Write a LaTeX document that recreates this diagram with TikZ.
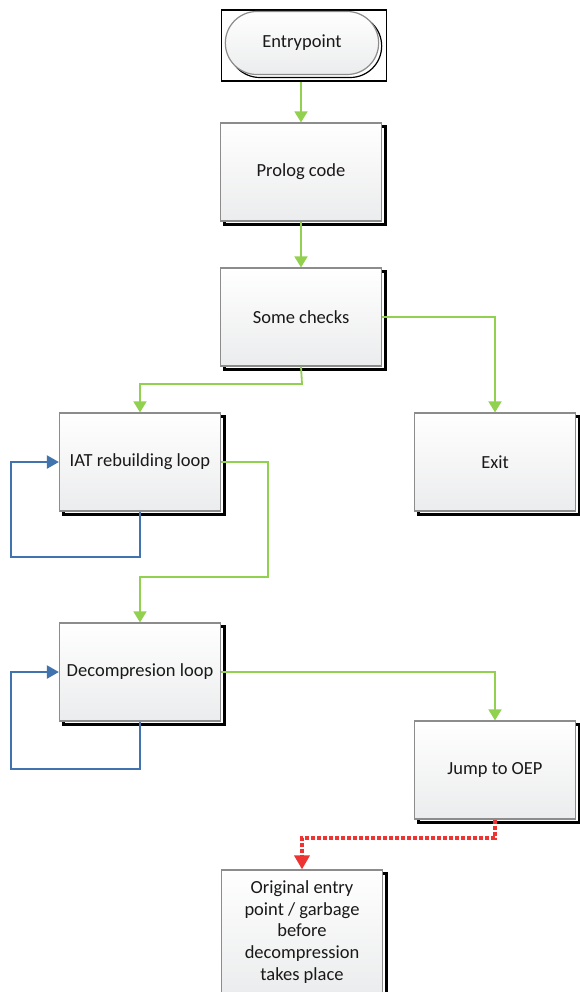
\documentclass[tikz,border=0pt]{standalone}
\usepackage{fontspec}
\setmainfont{Carlito}
\usetikzlibrary{arrows.meta,shapes.misc,shadows}
\definecolor{flowgreen}{HTML}{92D050}
\definecolor{loopblue}{HTML}{4173AE}
\definecolor{jumpred}{HTML}{EE3333}
\definecolor{boxedge}{HTML}{8C8C8C}
\definecolor{boxbottom}{HTML}{EBECED}
\tikzset{
  procbox/.style={rectangle, draw=boxedge, line width=1.2pt,
    top color=white, bottom color=boxbottom,
    minimum width=161pt, minimum height=98pt, align=center,
    text=black!90, font=\fontsize{18.5}{21.7}\selectfont,
    general shadow={shadow xshift=3.5pt, shadow yshift=-3.5pt,
      draw=black, line width=3pt, fill=white}},
  startbox/.style={rounded rectangle, draw=boxedge, line width=1.2pt,
    top color=white, bottom color=boxbottom,
    minimum width=160pt, minimum height=63pt,
    text=black!90, font=\fontsize{18.5}{21.7}\selectfont,
    general shadow={shadow xshift=3pt, shadow yshift=-3pt,
      draw=black, line width=1.2pt, fill=white}},
  framebox/.style={rectangle, draw=black, line width=1.6pt,
    minimum width=165pt, minimum height=71pt, inner sep=0pt},
  flow/.style={draw=flowgreen, line width=1.8pt,
    -{Triangle[width=13pt,length=11pt]}},
  selfloop/.style={draw=loopblue, line width=2.2pt,
    -{Triangle[width=13pt,length=12pt]}},
  jump/.style={draw=jumpred, line width=3.5pt, dash pattern=on 4pt off 2pt,
    -{Triangle[width=15pt,length=14pt]}},
}
\begin{document}
\begin{tikzpicture}[x=1pt,y=-1pt]
  \useasboundingbox (0,0) rectangle (579,992);

  % start terminal inside its frame
  \node[framebox] (entryframe) at (304,45.5) {};
  \node[startbox] (entry) at (302,43) {Entrypoint};

  % process boxes
  \node[procbox] (prolog) at (301,172) {Prolog code};
  \node[procbox] (checks) at (301,317) {Some checks};
  \node[procbox] (exit)   at (495,462) {Exit};
  \node[procbox] (iat)    at (140,462) {IAT rebuilding loop};
  \node[procbox] (decomp) at (140,672) {Decompresion loop};
  \node[procbox] (oep)    at (495,770) {Jump to OEP};
  \node[procbox, minimum height=124pt] (orig) at (302,932)
    {Original entry\\point / garbage\\before\\decompression\\takes place};

  % bend points
  \coordinate (b1) at (302,384);
  \coordinate (b2) at (268,577);
  \coordinate (b3) at (11,557);
  \coordinate (b4) at (11,769);
  \coordinate (b5) at (495,838);

  % main flow
  \draw[flow] (entryframe.south -| prolog.north) -- (prolog.north);
  \draw[flow] (prolog.south) -- (checks.north);
  \draw[flow] (checks.east) -| (exit.north);
  \draw[flow] (checks.south) -- (b1) -| (iat.north);
  \draw[flow] (iat.east) -| (b2) -| (decomp.north);
  \draw[flow] (decomp.east) -| (oep.north);

  % loops back into themselves
  \draw[selfloop] (iat.south) |- (b3) |- (iat.west);
  \draw[selfloop] (decomp.south) |- (b4) |- (decomp.west);

  % jump to the original entry point
  \draw[jump] (oep.south) -- (b5) -| (orig.north);
\end{tikzpicture}
\end{document}
